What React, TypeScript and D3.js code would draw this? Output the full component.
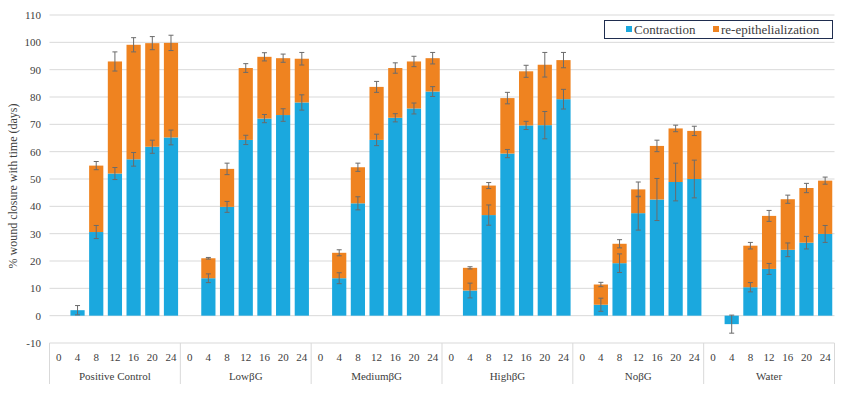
import * as d3 from "d3";

const groups = ["Positive Control", "LowβG", "MediumβG", "HighβG", "NoβG", "Water"];
const days = ["0", "4", "8", "12", "16", "20", "24"];

// contraction (%), per group, per day
const contraction = [
  [0, 2.0, 30.6, 52.0, 57.2, 61.8, 65.2],
  [0, 13.7, 39.8, 64.3, 72.1, 73.4, 78.0],
  [0, 13.7, 41.1, 64.3, 72.4, 75.8, 82.0],
  [0, 9.2, 36.8, 59.3, 69.6, 69.7, 79.2],
  [0, 4.0, 19.2, 37.5, 42.5, 48.9, 50.0],
  [0, -3.1, 10.4, 17.1, 24.1, 26.7, 29.9],
];
const contractionErr = [
  [0, 1.7, 2.4, 2.2, 2.5, 2.4, 2.7],
  [0, 1.6, 2.0, 1.7, 1.5, 2.3, 2.8],
  [0, 2.0, 2.4, 2.1, 1.5, 2.0, 1.8],
  [0, 2.7, 3.7, 1.5, 1.5, 5.0, 3.6],
  [0, 2.4, 3.4, 6.2, 7.7, 6.9, 6.9],
  [0, 3.3, 1.7, 2.0, 2.5, 2.3, 3.1],
];
// re-epithelialization (%), stacked on top of contraction
const reepi = [
  [0, 0, 24.3, 41.0, 41.9, 37.9, 34.6],
  [0, 7.3, 13.9, 26.3, 22.6, 20.8, 16.0],
  [0, 9.3, 13.2, 19.4, 18.2, 17.2, 12.2],
  [0, 8.3, 10.8, 20.3, 19.8, 22.1, 14.3],
  [0, 7.4, 7.1, 8.7, 19.6, 19.6, 17.6],
  [0, 0, 15.2, 19.4, 18.5, 20.0, 19.5],
];
const reepiErr = [
  [0, 0, 1.5, 3.5, 2.6, 2.4, 2.8],
  [0, 0.3, 2.1, 1.6, 1.5, 1.5, 2.3],
  [0, 1.1, 1.5, 2.0, 1.9, 1.9, 2.1],
  [0, 0.4, 1.1, 2.1, 2.2, 4.5, 2.8],
  [0, 0.8, 1.5, 2.7, 2.1, 1.2, 1.7],
  [0, 0, 1.2, 2.0, 1.5, 1.7, 1.3],
];
const yTicks = [-10, 0, 10, 20, 30, 40, 50, 60, 70, 80, 90, 100, 110];

const BLUE = "#1BA8DE";
const ORANGE = "#EF8320";
const ERR = "#6b6b6b";
const FONT = "Liberation Serif";

export default function App() {
  const width = 848;
  const height = 397;
  const left = 49.5;
  const right = 834.5;
  const top = 15;
  const bottom = 343;

  const keys: string[] = [];
  groups.forEach((g, gi) => days.forEach((d) => keys.push(`${gi}-${d}`)));

  const x = d3.scaleBand<string>().domain(keys).range([left, right]).paddingInner(0.24).paddingOuter(0.12);
  const y = d3.scaleLinear().domain([-10, 110]).range([bottom, top]);
  const groupX = d3.scaleLinear().domain([0, groups.length]).range([left, right]);
  const bw = x.bandwidth();

  const errBar = (cx: number, v: number, e: number, k: string) => {
    if (!e) return null;
    const c = 2.5;
    return (
      <g key={k} stroke={ERR} strokeWidth={1}>
        <line x1={cx} x2={cx} y1={y(v - e)} y2={y(v + e)} />
        <line x1={cx - c} x2={cx + c} y1={y(v - e)} y2={y(v - e)} />
        <line x1={cx - c} x2={cx + c} y1={y(v + e)} y2={y(v + e)} />
      </g>
    );
  };

  const txt = { fontFamily: FONT };

  return (
    <div style={{ position: "fixed", left: 0, top: 0 }}>
      <svg width={width} height={height} style={{ background: "#fff", display: "block", fontFamily: FONT }}>
        {/* gridlines */}
        {yTicks.map((t) => (
          <line key={t} x1={left} x2={right} y1={y(t)} y2={y(t)} stroke="#d9d9d9" strokeWidth={1} />
        ))}
        {yTicks.map((t) => (
          <text key={"l" + t} x={41} y={y(t)} dy="0.35em" textAnchor="end" style={txt} fontSize={11} fill="#404040">
            {t}
          </text>
        ))}
        <text
          transform={`translate(17,${(top + bottom) / 2 + 7}) rotate(-90)`}
          textAnchor="middle"
          style={txt}
          fontSize={12}
          fill="#404040"
        >
          % wound closure with time (days)
        </text>

        {/* bars */}
        {groups.map((g, gi) =>
          days.map((d, di) => {
            const k = `${gi}-${d}`;
            const c = contraction[gi][di];
            const r = reepi[gi][di];
            const x0 = x(k) as number;
            const base = Math.max(c, 0);
            return (
              <g key={k}>
                {c !== 0 && (
                  <rect x={x0} width={bw} y={y(Math.max(c, 0))} height={Math.abs(y(c) - y(0))} fill={BLUE} />
                )}
                {r !== 0 && <rect x={x0} width={bw} y={y(base + r)} height={y(base) - y(base + r)} fill={ORANGE} />}
              </g>
            );
          })
        )}
        {/* error bars */}
        {groups.map((g, gi) =>
          days.map((d, di) => {
            const k = `${gi}-${d}`;
            const cx = (x(k) as number) + bw / 2;
            const c = contraction[gi][di];
            const r = reepi[gi][di];
            return (
              <g key={"e" + k}>
                {errBar(cx, c, contractionErr[gi][di], "c")}
                {errBar(cx, Math.max(c, 0) + r, reepiErr[gi][di], "r")}
              </g>
            );
          })
        )}

        {/* category axis */}
        {groups.map((g, gi) => (
          <g key={"g" + gi}>
            {days.map((d) => {
              const k = `${gi}-${d}`;
              return (
                <text
                  key={k}
                  x={(x(k) as number) + bw / 2}
                  y={357}
                  dy="0.35em"
                  textAnchor="middle"
                  style={txt}
                  fontSize={11}
                  fill="#404040"
                >
                  {d}
                </text>
              );
            })}
            <text
              x={(groupX(gi) + groupX(gi + 1)) / 2}
              y={376}
              dy="0.35em"
              textAnchor="middle"
              style={txt}
              fontSize={11}
              fill="#404040"
            >
              {g}
            </text>
          </g>
        ))}
        {d3.range(groups.length + 1).map((i) => (
          <line key={"s" + i} x1={groupX(i)} x2={groupX(i)} y1={bottom} y2={384} stroke="#d9d9d9" strokeWidth={1} />
        ))}

        {/* legend */}
        <rect x={604.5} y={20.5} width={228} height={18} fill="#fff" stroke="#1f2d4f" strokeWidth={1} />
        <rect x={626} y={26} width={6} height={6} fill={BLUE} />
        <text x={634} y={29.5} dy="0.35em" style={txt} fontSize={13} fill="#404040">
          Contraction
        </text>
        <rect x={713} y={26} width={6} height={6} fill={ORANGE} />
        <text x={721} y={29.5} dy="0.35em" style={txt} fontSize={13} fill="#404040">
          re-epithelialization
        </text>
      </svg>
    </div>
  );
}
